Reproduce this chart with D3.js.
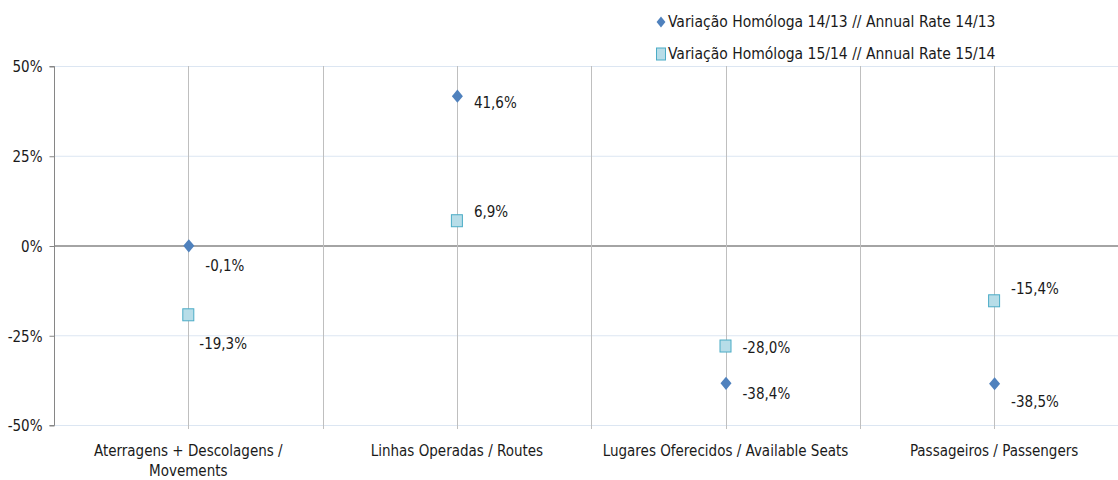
<!DOCTYPE html>
<html>
<head>
<meta charset="utf-8">
<script src="https://cdn.jsdelivr.net/npm/d3@7"></script>
<style>
  body { margin: 0; background: #fff; }
  text { font-family: "Liberation Sans Narrow", "DejaVu Sans Condensed", sans-serif; fill: #1a1a1a; }
</style>
</head>
<body>
<svg id="chart" width="1118" height="480"></svg>
<script>
const categories = [
  ['Aterragens + Descolagens /', 'Movements'],
  ['Linhas Operadas / Routes'],
  ['Lugares Oferecidos / Available Seats'],
  ['Passageiros / Passengers']
]
const seriesNames = [
  'Variação Homóloga 14/13 // Annual Rate 14/13',
  'Variação Homóloga 15/14 // Annual Rate 15/14'
]
const rate1413 = [-0.1, 41.6, -38.4, -38.5]
const rate1514 = [-19.3, 6.9, -28.0, -15.4]
const yTicks = [-50, -25, 0, 25, 50]

// label nudges (px) relative to each marker
const labelDy1413 = [20, 7, 10, 18]
const labelDy1514 = [29, -9, 2, -12]

const conf = {
  left: 54,
  top: 66,
  bottom: 425,
  band: 268.6,
  fontSize: 15
}

const svg = d3.select('#chart')
const idx = d3.range(categories.length)

const x = d3.scaleBand()
  .domain(idx)
  .range([conf.left, conf.left + conf.band * categories.length])
const y = d3.scaleLinear().domain([-50, 50]).range([conf.bottom, conf.top])

const grid = svg.append('g')

// horizontal gridlines
grid.selectAll('line.h')
  .data(yTicks)
  .enter().append('line')
  .attr('x1', conf.left).attr('x2', 1118)
  .attr('y1', d => y(d) + 0.5).attr('y2', d => y(d) + 0.5)
  .attr('stroke', d => d === 0 ? '#868686' : '#dce6f2')
  .attr('stroke-width', d => d === 0 ? 1.3 : 1)

// vertical lines: band boundaries and category centres
const vx = []
idx.forEach(i => {
  vx.push(x(i) + x.bandwidth() / 2)
  if (i > 0) vx.push(x(i))
})
grid.selectAll('line.v')
  .data(vx)
  .enter().append('line')
  .attr('x1', d => Math.round(d) + 0.5).attr('x2', d => Math.round(d) + 0.5)
  .attr('y1', conf.top).attr('y2', conf.bottom + 4)
  .attr('stroke', '#bfbfbf')

// left axis
const yAxis = svg.append('g')
  .attr('transform', `translate(${conf.left + 0.5},0.5)`)
  .call(d3.axisLeft(y).tickValues(yTicks).tickSize(5).tickFormat(d => d + '%'))
yAxis.select('.domain').attr('stroke', '#868686').attr('d', `M-5,${y(50)}H0V${y(-50)}H-5`)
yAxis.selectAll('.tick line').attr('stroke', '#868686')
yAxis.selectAll('.tick text')
  .attr('x', -12)
  .attr('dy', '0.35em')
  .style('font-size', conf.fontSize + 'px')
  .style('font-family', '"Liberation Sans Narrow", "DejaVu Sans Condensed", sans-serif')
  .attr('fill', '#1a1a1a')

// category labels
const cat = svg.append('g').selectAll('text')
  .data(categories)
  .enter().append('text')
  .attr('x', (d, i) => x(i) + x.bandwidth() / 2)
  .attr('y', 456)
  .attr('text-anchor', 'middle')
  .style('font-size', conf.fontSize + 'px')
cat.selectAll('tspan')
  .data(d => d)
  .enter().append('tspan')
  .attr('x', function () { return this.parentNode.getAttribute('x') })
  .attr('dy', (d, j) => j === 0 ? 0 : 20)
  .text(d => d)

const fmt = v => v.toFixed(1).replace('.', ',') + '%'

// series 14/13 diamonds
const diamond = d3.symbol().type(d3.symbolDiamond2).size(100)
svg.append('g').selectAll('path')
  .data(rate1413)
  .enter().append('path')
  .attr('d', diamond)
  .attr('transform', (d, i) => `translate(${x(i) + x.bandwidth() / 2 + 0.5},${y(d)}) scale(0.88,1.05)`)
  .attr('fill', '#4f81bd')

// series 15/14 squares
svg.append('g').selectAll('rect')
  .data(rate1514)
  .enter().append('rect')
  .attr('x', (d, i) => x(i) + x.bandwidth() / 2 - 5.5)
  .attr('y', d => y(d) - 6)
  .attr('width', 11).attr('height', 12)
  .attr('fill', '#b7dde8')
  .attr('stroke', '#4bacc6')
  .attr('stroke-width', 1)

// data labels
const labels = svg.append('g').style('font-size', conf.fontSize + 'px')
labels.selectAll('text.s1')
  .data(rate1413)
  .enter().append('text')
  .attr('x', (d, i) => x(i) + x.bandwidth() / 2 + 17)
  .attr('y', (d, i) => y(d) + labelDy1413[i])
  .attr('dy', '0.35em')
  .text(fmt)
labels.selectAll('text.s2')
  .data(rate1514)
  .enter().append('text')
  .attr('x', (d, i) => x(i) + x.bandwidth() / 2 + (i === 0 ? 11 : 17))
  .attr('y', (d, i) => y(d) + labelDy1514[i])
  .attr('dy', '0.35em')
  .text(fmt)

// legend
const legend = svg.append('g')
const lg = legend.selectAll('g')
  .data(seriesNames)
  .enter().append('g')
  .attr('transform', (d, i) => `translate(661,${22 + i * 32})`)
lg.filter((d, i) => i === 0).append('path')
  .attr('d', d3.symbol().type(d3.symbolDiamond2).size(70))
  .attr('transform', 'scale(0.85,1.05)')
  .attr('fill', '#4f81bd')
lg.filter((d, i) => i === 1).append('rect')
  .attr('x', -4.5).attr('y', -6).attr('width', 9).attr('height', 12)
  .attr('fill', '#b7dde8').attr('stroke', '#4bacc6')
lg.append('text')
  .attr('x', 7)
  .attr('dy', '0.35em')
  .style('font-size', '15.5px')
  .text(d => d)
</script>
</body>
</html>
